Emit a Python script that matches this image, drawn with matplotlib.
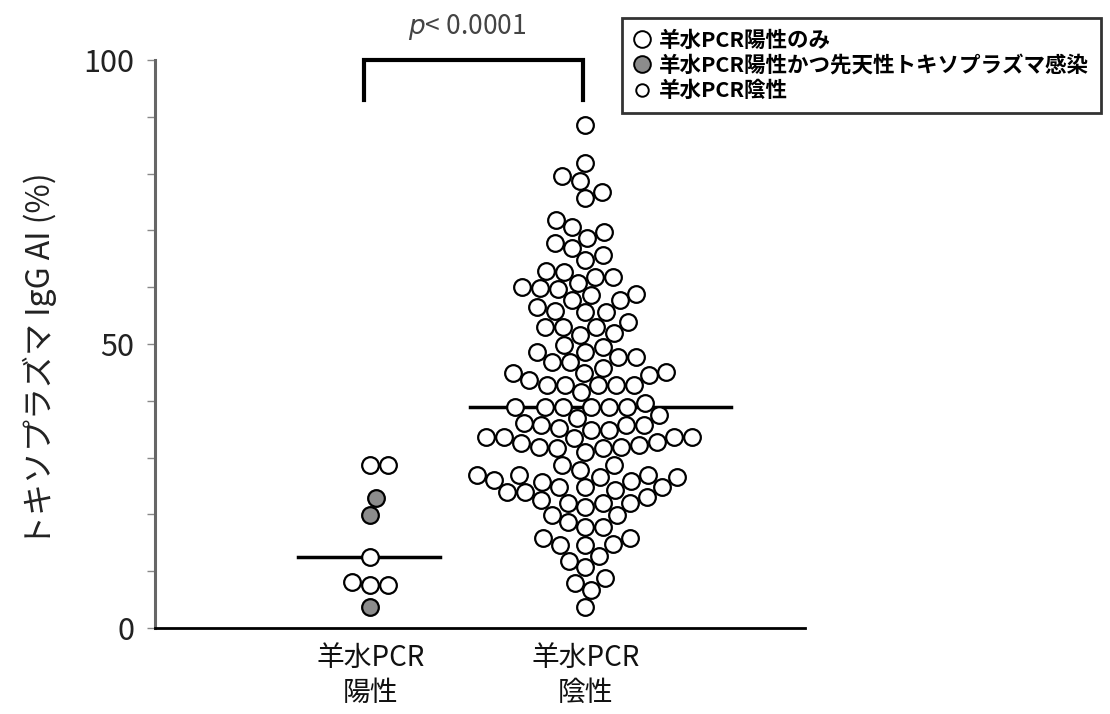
import numpy as np
import matplotlib.pyplot as plt
from matplotlib.lines import Line2D

plt.rcParams['font.family'] = ['Noto Sans CJK JP', 'DejaVu Sans']

# IgG avidity index (%) per patient
groups = ['羊水PCR\n陽性', '羊水PCR\n陰性']
pos_only = [28.7, 28.7, 12.5, 8.1, 7.6, 7.6]
pos_congenital = [22.9, 19.9, 3.7]
negative = [
    88.6, 81.9, 79.6, 78.7, 76.8, 75.7, 71.8, 70.6, 69.7, 68.7, 67.8, 66.9, 65.7, 64.8,
    62.9, 62.7, 61.8, 61.8, 60.7, 60.0, 59.9, 59.7, 58.8, 58.6, 57.7, 57.7, 56.5, 55.8,
    55.6, 55.6, 53.9, 53.0, 53.0, 53.0, 51.9, 51.6,
    49.8, 49.5, 48.6, 48.6, 47.7, 47.7, 46.8, 46.8, 45.8, 45.1, 44.9, 44.9, 44.5, 43.7,
    42.8, 42.8, 42.8, 42.8, 42.8, 41.5,
    39.6, 38.9, 38.9, 38.9, 38.9, 38.9, 38.9, 37.5, 37.0,
    36.1, 35.7, 35.7, 35.7, 35.2, 34.9, 34.9,
    33.6, 33.6, 33.6, 33.6, 33.5, 32.7, 32.6, 32.2, 31.9, 31.9, 31.7, 31.7, 31.0,
    28.7, 28.7, 27.8, 26.9, 26.9, 26.9, 26.6, 26.6, 26.1, 25.9, 25.7,
    24.8, 24.8, 24.8, 24.3, 23.9, 23.9, 23.1, 22.5, 22.0, 22.0, 22.0, 21.3,
    19.9, 19.9, 18.7, 17.8, 17.8, 15.8, 15.8, 14.8, 14.6, 14.6,
    12.7, 11.8, 10.7, 8.8, 7.9, 6.7, 3.7,
]
p_text = r'$\it{p}$< 0.0001'

fig = plt.figure(figsize=(11.1, 7.14), dpi=100)
ax = fig.add_axes([0.1396, 0.1204, 0.5856, 0.7955])
ax.set_xlim(0, 3.02)
ax.set_ylim(0, 100)

DIAM = 18.0  # marker spacing in pixels


def swarm(x0, values):
    # beeswarm: each point goes to the free spot nearest the centre line
    values = np.asarray(values, dtype=float)
    pts = ax.transData.transform(np.column_stack([np.full(len(values), x0), values]))
    placed = []
    xs = np.zeros(len(values))
    for i in np.argsort(values):
        cx, cy = pts[i]
        cands = [0.0]
        for px, py in placed:
            dy = cy - py
            if abs(dy) < DIAM:
                dx = np.sqrt(DIAM ** 2 - dy ** 2)
                cands += [px - cx + dx, px - cx - dx]
        cands.sort(key=abs)
        for c in cands:
            if all((cx + c - px) ** 2 + (cy - py) ** 2 >= DIAM ** 2 - 1e-6 for px, py in placed):
                break
        placed.append((cx + c, cy))
        xs[i] = cx + c
    return ax.transData.inverted().transform(np.column_stack([xs, pts[:, 1]]))[:, 0]


mk = dict(marker='o', ms=12, mew=1.6, mec='black', ls='none', zorder=3)

left_vals = pos_only + pos_congenital
left_x = swarm(1, left_vals)
n = len(pos_only)
ax.plot(left_x[:n], pos_only, mfc='white', **mk)
ax.plot(left_x[n:], pos_congenital, mfc='#8c8c8c', **mk)

right_x = swarm(2, negative)
ax.plot(right_x, negative, mfc='white', **mk)

# median lines
ax.plot([0.665, 1.326], [np.median(left_vals)] * 2, color='black', lw=2.5, zorder=2)
ax.plot([1.465, 2.675], [np.median(negative)] * 2, color='black', lw=2.5, zorder=2)

# significance bracket
ax.plot([0.97, 0.97, 1.99, 1.99], [93, 100, 100, 93], color='black', lw=3,
        clip_on=False, solid_joinstyle='miter')
ax.text(1.45, 103.2, p_text, ha='center', va='bottom', fontsize=19, color='#444444')

# axes styling
for s in ['top', 'right']:
    ax.spines[s].set_visible(False)
ax.spines['left'].set_color('#666666')
ax.spines['left'].set_linewidth(2.2)
ax.spines['bottom'].set_color('black')
ax.spines['bottom'].set_linewidth(2)

ax.set_yticks(np.arange(0, 101, 10))
ax.set_yticklabels(['0' if v == 0 else '50' if v == 50 else '100' if v == 100 else ''
                    for v in range(0, 101, 10)])
ax.tick_params(axis='y', length=6, width=1, color='#888888', pad=9,
               labelsize=22, labelcolor='#222222')
ax.set_xticks([1, 2])
ax.set_xticklabels(groups, fontsize=20, linespacing=1.2)
ax.tick_params(axis='x', length=0, pad=11, labelcolor='#111111')

fig.text(40 / 1110, 1 - 360 / 714, 'トキソプラズマ IgG AI (%)', rotation=90,
         ha='center', va='center', fontsize=23, color='#222222')

handles = [
    Line2D([], [], marker='o', ms=12, mfc='white', mec='black', mew=1.4, ls='none'),
    Line2D([], [], marker='o', ms=12, mfc='#8c8c8c', mec='black', mew=1.4, ls='none'),
    Line2D([], [], marker='o', ms=9, mfc='white', mec='black', mew=1.4, ls='none'),
]
labels = ['羊水PCR陽性のみ', '羊水PCR陽性かつ先天性トキソプラズマ感染', '羊水PCR陰性']
leg = fig.legend(handles, labels, loc='upper left', bbox_to_anchor=(0.560, 0.975),
                 frameon=True, fancybox=False, edgecolor='black',
                 prop={'weight': 'bold', 'size': 15.5}, handlelength=0.8,
                 handletextpad=0.4, labelspacing=0.2, borderpad=0.55, borderaxespad=0)
leg.get_frame().set_linewidth(2)

fig.savefig('out.png', dpi=100)
